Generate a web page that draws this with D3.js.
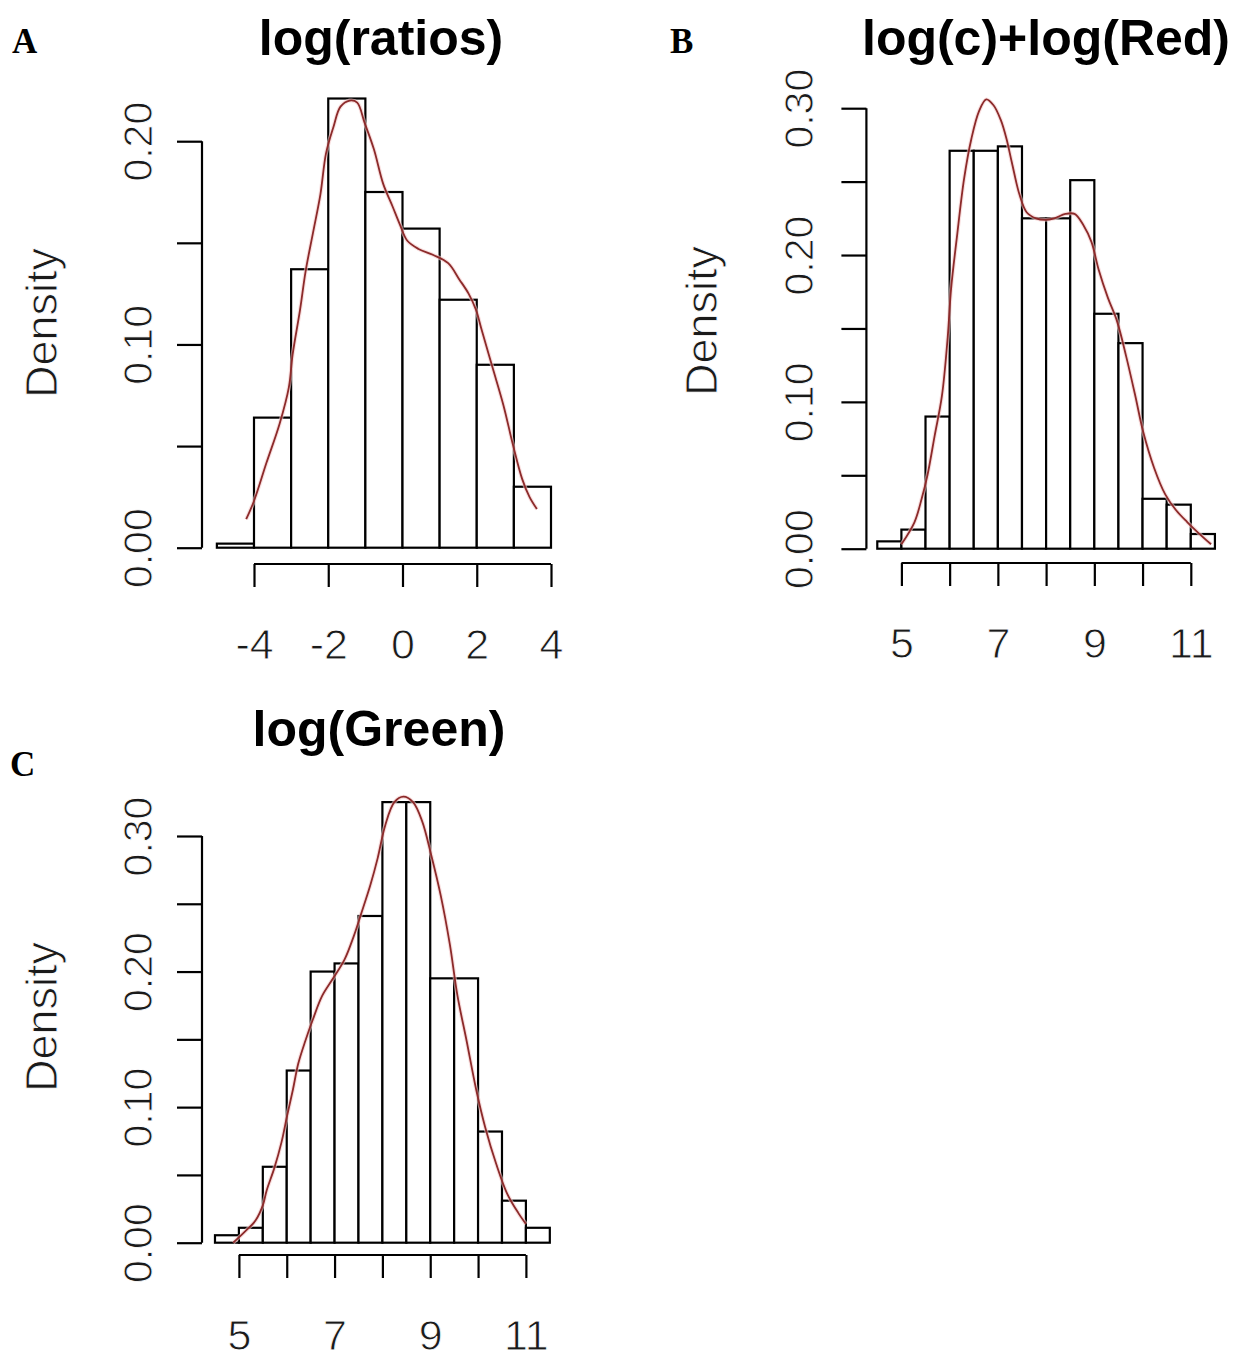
<!DOCTYPE html>
<html>
<head>
<meta charset="utf-8">
<script src="https://cdn.jsdelivr.net/npm/d3@7"></script>
<style>
  html, body { margin: 0; padding: 0; background: #fff; }
  svg { display: block; }
  text { font-family: "Liberation Sans", Arial, sans-serif; fill: #000; }
  .thin { fill: #1a1a1a; stroke: #fff; stroke-width: 0.9px; paint-order: fill stroke; }
</style>
</head>
<body>
<svg id="chart" width="1238" height="1365"></svg>
<script>
// ---------- Panel A : log(ratios) ----------
const aTitle = "log(ratios)";
const aBinEdges = [-5, -4, -3, -2, -1, 0, 1, 2, 3, 4];
const aDensity  = [0.002, 0.064, 0.137, 0.221, 0.175, 0.157, 0.122, 0.090, 0.030];
const aCurveX = [-4.21,-4.0,-3.66,-3.31,-3.06,-2.96,-2.76,-2.61,-2.41,-2.21,-2.06,-1.86,-1.67,-1.42,-1.22,-1.02,-0.77,-0.52,-0.27,-0.07,0.13,0.43,0.83,1.23,1.53,1.78,1.98,2.12,2.42,2.72,2.97,3.22,3.42,3.62];
const aCurveY = [0.014,0.023,0.042,0.061,0.079,0.095,0.117,0.136,0.155,0.174,0.194,0.207,0.217,0.220,0.219,0.209,0.196,0.179,0.168,0.159,0.151,0.147,0.144,0.140,0.132,0.125,0.117,0.108,0.089,0.070,0.051,0.034,0.025,0.019];
const aXTicks = [-4, -2, 0, 2, 4];
const aXMinor = [-4, -2, 0, 2, 4];
const aYTicks = [0, 0.05, 0.10, 0.15, 0.20];
const aYLabels = ["0.00", "", "0.10", "", "0.20"];

// ---------- Panel B : log(c)+log(Red) ----------
const bTitle = "log(c)+log(Red)";
const bBinEdges = [4.5, 5, 5.5, 6, 6.5, 7, 7.5, 8, 8.5, 9, 9.5, 10, 10.5, 11, 11.5];
const bDensity  = [0.005, 0.013, 0.090, 0.271, 0.271, 0.274, 0.225, 0.225, 0.251, 0.160, 0.140, 0.034, 0.030, 0.010];
const bCurveX = [5.0,5.27,5.42,5.54,5.69,5.84,5.96,6.03,6.15,6.30,6.45,6.61,6.76,6.91,7.06,7.18,7.29,7.45,7.60,7.79,7.98,8.17,8.40,8.59,8.78,8.94,9.09,9.28,9.47,9.66,9.85,10.01,10.24,10.47,10.70,10.93,11.15,11.42];
const bCurveY = [0.003,0.018,0.034,0.050,0.077,0.104,0.144,0.177,0.212,0.252,0.279,0.298,0.306,0.302,0.292,0.279,0.263,0.241,0.229,0.225,0.224,0.225,0.228,0.228,0.220,0.209,0.190,0.171,0.155,0.131,0.104,0.080,0.055,0.037,0.026,0.018,0.011,0.003];
const bXTicks = [5, 7, 9, 11];
const bXMinor = [5, 6, 7, 8, 9, 10, 11];
const bYTicks = [0, 0.05, 0.10, 0.15, 0.20, 0.25, 0.30];
const bYLabels = ["0.00", "", "0.10", "", "0.20", "", "0.30"];

// ---------- Panel C : log(Green) ----------
const cTitle = "log(Green)";
const cBinEdges = [4.5, 5, 5.5, 6, 6.5, 7, 7.5, 8, 8.5, 9, 9.5, 10, 10.5, 11, 11.5];
const cDensity  = [0.0055, 0.011, 0.056, 0.127, 0.200, 0.206, 0.241, 0.325, 0.325, 0.195, 0.195, 0.082, 0.031, 0.011];
const cCurveX = [4.88,5.12,5.35,5.50,5.58,5.74,5.89,6.01,6.13,6.24,6.39,6.55,6.74,6.97,7.21,7.40,7.55,7.75,7.90,8.06,8.25,8.44,8.64,8.83,9.02,9.22,9.41,9.57,9.76,9.96,10.15,10.38,10.61,10.84,11.0];
const cCurveY = [0.0,0.008,0.0165,0.0275,0.0385,0.055,0.074,0.094,0.113,0.132,0.149,0.165,0.182,0.195,0.209,0.226,0.242,0.264,0.2835,0.308,0.325,0.329,0.325,0.311,0.286,0.256,0.220,0.182,0.149,0.113,0.085,0.058,0.036,0.022,0.0138];
const cXTicks = [5, 7, 9, 11];
const cXMinor = [5, 6, 7, 8, 9, 10, 11];
const cYTicks = [0, 0.05, 0.10, 0.15, 0.20, 0.25, 0.30];
const cYLabels = ["0.00", "", "0.10", "", "0.20", "", "0.30"];

const panelLetters = ["A", "B", "C"];
const yAxisTitle = "Density";

// ---------- drawing ----------
const svg = d3.select("#chart");
svg.append("rect").attr("width", 1238).attr("height", 1365).attr("fill", "#fff");

function drawPanel(cfg) {
  const g = svg.append("g");
  const x = d3.scaleLinear().domain(cfg.xDomain).range(cfg.xRange);
  const y = d3.scaleLinear().domain(cfg.yDomain).range(cfg.yRange);

  // bars
  const bars = cfg.density.map((d, i) => ({x0: cfg.edges[i], x1: cfg.edges[i + 1], d}));
  g.append("g").selectAll("rect").data(bars).join("rect")
    .attr("x", b => x(b.x0))
    .attr("y", b => y(b.d))
    .attr("width", b => x(b.x1) - x(b.x0))
    .attr("height", b => y(0) - y(b.d))
    .attr("fill", "#fff")
    .attr("stroke", "#000")
    .attr("stroke-width", 2.2);

  // density curve
  const pts = cfg.cx.map((v, i) => [v, cfg.cy[i]]);
  const lineGen = d3.line().x(p => x(p[0])).y(p => y(p[1])).curve(d3.curveCatmullRom.alpha(0.5));
  g.append("path").datum(pts).attr("d", lineGen)
    .attr("fill", "none").attr("stroke", "#f3c9c9").attr("stroke-width", 4).attr("opacity", 0.6);
  g.append("path").datum(pts).attr("d", lineGen)
    .attr("fill", "none").attr("stroke", "#8c2a2a").attr("stroke-width", 1.8);

  // y axis
  const yAx = g.append("g")
    .attr("transform", `translate(${cfg.yAxisX},0)`)
    .call(d3.axisLeft(y).tickValues(cfg.yTicks).tickSize(25).tickSizeOuter(0)
      .tickFormat((d, i) => cfg.yLabels[i]));
  yAx.select(".domain").attr("stroke-width", 2.2).attr("d", `M0,${y(cfg.yTicks[0])}V${y(cfg.yTicks[cfg.yTicks.length - 1])}`);
  yAx.selectAll(".tick line").attr("stroke-width", 2.2);
  yAx.selectAll(".tick text")
    .attr("x", null).attr("dy", null)
    .attr("transform", `translate(${cfg.yLabelOff},0) rotate(-90)`)
    .attr("text-anchor", "middle")
    .attr("class", "thin")
    .style("font-size", "41px")
    .style("font-family", '"Liberation Sans", Arial, sans-serif');

  // x axis
  const xAx = g.append("g")
    .attr("transform", `translate(0,${cfg.xAxisY})`)
    .call(d3.axisBottom(x).tickValues(cfg.xMinor).tickSize(23).tickSizeOuter(0)
      .tickFormat(d => cfg.xTicks.includes(d) ? String(d) : ""));
  xAx.select(".domain").attr("stroke-width", 2.2).attr("d", `M${x(cfg.xMinor[0])},0H${x(cfg.xMinor[cfg.xMinor.length - 1])}`);
  xAx.selectAll(".tick line").attr("stroke-width", 2.2);
  xAx.selectAll(".tick text")
    .attr("y", 95).attr("dy", null)
    .attr("text-anchor", "middle")
    .attr("class", "thin")
    .style("font-size", "43px")
    .style("font-family", '"Liberation Sans", Arial, sans-serif');

  // axis title
  g.append("text")
    .attr("transform", `translate(${cfg.densX},${cfg.densY}) rotate(-90)`)
    .attr("text-anchor", "middle")
    .attr("class", "thin")
    .style("font-size", "45px")
    .text(yAxisTitle);

  // title
  g.append("text")
    .attr("x", cfg.titleX).attr("y", cfg.titleY)
    .attr("text-anchor", "middle")
    .style("font-size", "50px")
    .style("font-weight", "bold")
    .text(cfg.title);

  // panel letter
  g.append("text")
    .attr("x", cfg.letterX).attr("y", cfg.letterY)
    .style("font-family", '"Liberation Serif", "Times New Roman", serif')
    .style("font-weight", "bold")
    .style("font-size", "35px")
    .text(cfg.letter);
}

drawPanel({
  title: aTitle, letter: panelLetters[0],
  edges: aBinEdges, density: aDensity, cx: aCurveX, cy: aCurveY,
  xTicks: aXTicks, xMinor: aXMinor, yTicks: aYTicks, yLabels: aYLabels,
  xDomain: [-4, 4], xRange: [254, 551], yDomain: [0, 0.2], yRange: [547.7, 141.2],
  yAxisX: 202, xAxisY: 564, yLabelOff: -50, densX: 57, densY: 323,
  titleX: 381, titleY: 55, letterX: 12, letterY: 53
});
drawPanel({
  title: bTitle, letter: panelLetters[1],
  edges: bBinEdges, density: bDensity, cx: bCurveX, cy: bCurveY,
  xTicks: bXTicks, xMinor: bXMinor, yTicks: bYTicks, yLabels: bYLabels,
  xDomain: [5, 11], xRange: [901.4, 1190.8], yDomain: [0, 0.3], yRange: [548.7, 108.2],
  yAxisX: 866.4, xAxisY: 563, yLabelOff: -53, densX: 717, densY: 321,
  titleX: 1046, titleY: 55, letterX: 670, letterY: 53
});
drawPanel({
  title: cTitle, letter: panelLetters[2],
  edges: cBinEdges, density: cDensity, cx: cCurveX, cy: cCurveY,
  xTicks: cXTicks, xMinor: cXMinor, yTicks: cYTicks, yLabels: cYLabels,
  xDomain: [5, 11], xRange: [238.9, 525.9], yDomain: [0, 0.3], yRange: [1242.7, 836],
  yAxisX: 202, xAxisY: 1255, yLabelOff: -50, densX: 57, densY: 1017,
  titleX: 379, titleY: 746, letterX: 10, letterY: 776
});
</script>
</body>
</html>
